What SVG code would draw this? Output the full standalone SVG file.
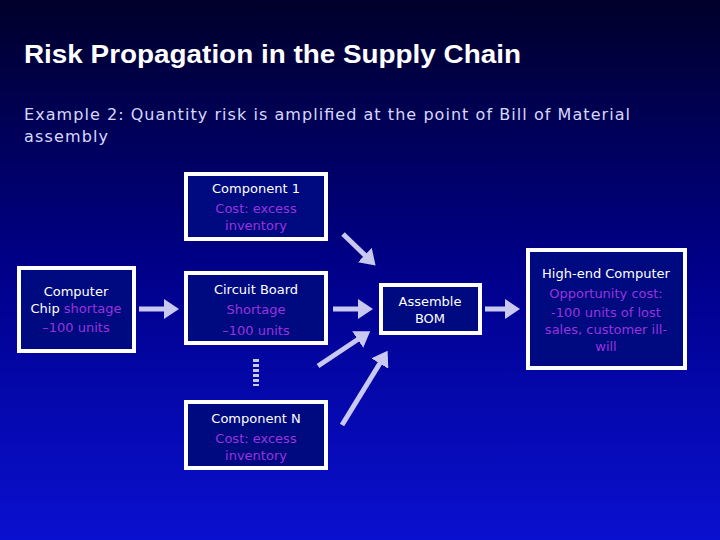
<svg xmlns="http://www.w3.org/2000/svg" width="720" height="540" viewBox="0 0 720 540">
<defs>
<linearGradient id="bg" x1="0" y1="0" x2="0" y2="1">
<stop offset="0" stop-color="#00002a"/><stop offset="0.5" stop-color="#00008a"/><stop offset="1" stop-color="#0a10d0"/>
</linearGradient>
<marker id="ah" markerWidth="4" markerHeight="4" refX="2" refY="2" orient="auto" markerUnits="strokeWidth"><path d="M0,0 L3,2 L0,4 z" fill="#c8c8f0"/></marker>
<style>
.box{fill:#000a80;stroke:#fff;stroke-width:4}
.t{font-family:"DejaVu Sans",sans-serif;font-size:13px;fill:#fff;text-anchor:middle}
.p{fill:#9933dd}
.c{stroke:#c8c8f0;stroke-width:5;fill:none;marker-end:url(#ah)}
</style>
</defs>
<rect width="720" height="540" fill="url(#bg)"/>
<text x="24" y="63" font-family="Liberation Sans,sans-serif" font-weight="bold" font-size="25" fill="#fff" textLength="497" lengthAdjust="spacingAndGlyphs">Risk Propagation in the Supply Chain</text>
<text font-family="DejaVu Sans,sans-serif" font-size="16" fill="#d8d8ff"><tspan x="24" y="120" textLength="606">Example 2: Quantity risk is amplified at the point of Bill of Material</tspan><tspan x="24" y="142" textLength="84">assembly</tspan></text>
<g id="comp1"><rect class="box" x="186" y="174" width="140" height="65"/><text class="t"><tspan x="256" y="193">Component 1</tspan><tspan class="p" x="256" y="213">Cost: excess</tspan><tspan class="p" x="256" y="230">inventory</tspan></text></g>
<g id="chip"><rect class="box" x="19" y="268" width="115" height="83"/><text class="t"><tspan x="76" y="296">Computer</tspan><tspan x="76" y="313">Chip <tspan class="p">shortage</tspan></tspan><tspan class="p" x="76" y="332">–100 units</tspan></text></g>
<g id="board"><rect class="box" x="186" y="273" width="140" height="70"/><text class="t"><tspan x="256" y="294">Circuit Board</tspan><tspan class="p" x="256" y="314">Shortage</tspan><tspan class="p" x="256" y="335">–100 units</tspan></text></g>
<g id="dots"><line x1="256" y1="359" x2="256" y2="386" stroke="#c8c8f0" stroke-width="6" stroke-dasharray="3,2"/></g>
<g id="compN"><rect class="box" x="186" y="402" width="140" height="66"/><text class="t"><tspan x="256" y="423">Component N</tspan><tspan class="p" x="256" y="443">Cost: excess</tspan><tspan class="p" x="256" y="460">inventory</tspan></text></g>
<g id="bom"><rect class="box" x="381" y="285" width="99" height="48"/><text class="t"><tspan x="430" y="306">Assemble</tspan><tspan x="430" y="323">BOM</tspan></text></g>
<g id="hec"><rect class="box" x="528" y="250" width="157" height="118"/><text class="t"><tspan x="606" y="278">High-end Computer</tspan><tspan class="p" x="606" y="298">Opportunity cost:</tspan><tspan class="p" x="606" y="317">-100 units of lost</tspan><tspan class="p" x="606" y="334">sales, customer ill-</tspan><tspan class="p" x="606" y="351">will</tspan></text></g>
<g id="connectors">
<line class="c" x1="139" y1="309" x2="174" y2="309"/>
<line class="c" x1="333" y1="309" x2="368" y2="309"/>
<line class="c" x1="343" y1="234" x2="372" y2="262"/>
<line class="c" x1="318" y1="366" x2="366" y2="334"/>
<line class="c" x1="342" y1="425" x2="385" y2="355"/>
<line class="c" x1="485" y1="309" x2="515" y2="309"/>
</g>
</svg>
